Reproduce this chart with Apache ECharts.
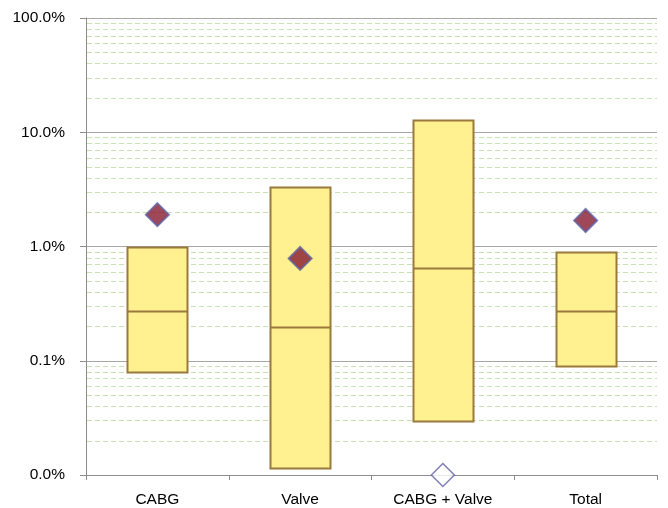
<!DOCTYPE html>
<html>
<head>
<meta charset="utf-8">
<script src="https://cdn.jsdelivr.net/npm/echarts@6/dist/echarts.min.js"></script>
<style>
  html, body { margin: 0; padding: 0; background: #fff; }
  #chart { width: 668px; height: 508px; }
</style>
</head>
<body>
<div id="chart"></div>
<script>
// Categories and box statistics (percent)
const categories = ['CABG', 'Valve', 'CABG + Valve', 'Total'];
const boxLow    = [0.08, 0.0115, 0.0296, 0.090];
const boxMedian = [0.273, 0.198, 0.642, 0.273];
const boxHigh   = [1.0, 3.34, 12.7, 0.904];

// Observed rates shown as diamonds
const observed = [1.9, 0.786, null, 1.69];
// Zero observed rate, drawn hollow at the axis floor
const observedZero = [null, null, 0.01, null];

// Log axis range and minor grid multipliers
const yMin = 0.01, yMax = 100;
const minorSteps = [2, 3, 4, 5, 6, 7, 8, 9];
const minorValues = [];
for (let d = yMin; d < yMax * 0.99; d *= 10) {
  minorSteps.forEach(m => minorValues.push(+(d * m).toPrecision(3)));
}

const fontFamily = '"Liberation Sans", Arial, sans-serif';

const chart = echarts.init(document.getElementById('chart'), null, { renderer: 'canvas' });

chart.setOption({
  animation: false,
  backgroundColor: '#ffffff',
  grid: { left: 86, right: 11, top: 18, bottom: 32, containLabel: false },
  xAxis: {
    type: 'category',
    data: categories,
    boundaryGap: true,
    axisLine: { lineStyle: { color: '#8c8c8c', width: 1 } },
    axisTick: { show: true, length: 5, lineStyle: { color: '#8c8c8c' } },
    axisLabel: { color: '#000', fontSize: 15.5, fontFamily, margin: 17 },
    splitLine: { show: false }
  },
  yAxis: {
    type: 'log',
    logBase: 10,
    min: yMin,
    max: yMax,
    axisLine: { show: true, lineStyle: { color: '#8c8c8c', width: 1 } },
    axisTick: { show: true, length: 6, lineStyle: { color: '#8c8c8c' } },
    axisLabel: {
      color: '#000', fontSize: 15.5, fontFamily, margin: 21,
      padding: [6, 0, 0, 0],
      formatter: v => v.toFixed(1) + '%'
    },
    splitLine: { show: true, lineStyle: { color: '#a6a6a6', width: 1 } },
    minorTick: { show: false },
    minorSplitLine: { show: false }
  },
  series: [
    {
      // minor dashed gridlines
      type: 'custom',
      silent: true,
      z: 1,
      data: minorValues.map(v => [0, v]),
      renderItem(params, api) {
        const cs = params.coordSys;
        const y = Math.round(api.coord([0, api.value(1)])[1]) + 0.5;
        return {
          type: 'line',
          shape: { x1: cs.x + 1, y1: y, x2: cs.x + cs.width, y2: y },
          style: { stroke: '#c6e2b4', lineWidth: 1, lineDash: [5, 3] }
        };
      }
    },
    {
      // boxes with median line
      type: 'custom',
      z: 3,
      data: categories.map((c, i) => [i, boxLow[i], boxMedian[i], boxHigh[i]]),
      renderItem(params, api) {
        const cs = params.coordSys;
        const bandW = cs.width / categories.length;
        const w = bandW * 0.42;
        const idx = api.value(0);
        const pLow = api.coord([idx, api.value(1)]);
        const pMed = api.coord([idx, api.value(2)]);
        const pHigh = api.coord([idx, api.value(3)]);
        const x0 = Math.round(pLow[0] - w / 2) + 0.5;
        const y0 = Math.round(pHigh[1]) + 0.5;
        const y1 = Math.round(pLow[1]) + 0.5;
        const ym = Math.round(pMed[1]) + 0.5;
        const ww = Math.round(w);
        return {
          type: 'group',
          children: [
            {
              type: 'rect',
              shape: { x: x0, y: y0, width: ww, height: y1 - y0 },
              style: { fill: '#fff18f', stroke: '#9a7a3c', lineWidth: 2 }
            },
            {
              type: 'line',
              shape: { x1: x0, y1: ym, x2: x0 + ww, y2: ym },
              style: { stroke: '#9a7a3c', lineWidth: 2 }
            }
          ]
        };
      }
    },
    {
      type: 'scatter',
      z: 5,
      data: observed,
      symbol: 'diamond',
      symbolSize: 23,
      itemStyle: { color: '#861a2f', borderColor: '#5f5fa0', borderWidth: 2 }
    },
    {
      type: 'scatter',
      z: 5,
      data: observedZero,
      symbol: 'diamond',
      symbolSize: 23,
      itemStyle: { color: '#ffffff', borderColor: '#5f5fa0', borderWidth: 1.5 }
    }
  ]
});
</script>
</body>
</html>
